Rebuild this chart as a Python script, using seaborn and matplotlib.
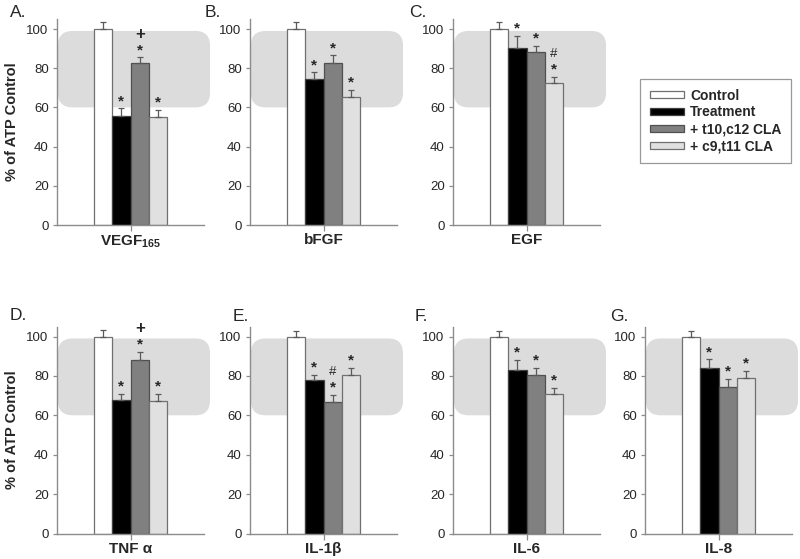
import numpy as np
import pandas as pd
import matplotlib
matplotlib.use("Agg")
import matplotlib.pyplot as plt
import seaborn as sns
from matplotlib.patches import FancyBboxPatch
from matplotlib import transforms

# ---------------- data ----------------
cytokines = ["VEGF165", "bFGF", "EGF", "TNF α", "IL-1β", "IL-6", "IL-8"]
tick_labels = [r"$\mathbf{VEGF}_{\mathbf{165}}$", "bFGF", "EGF", "TNF α", "IL-1β", "IL-6", "IL-8"]
panel_letters = ["A.", "B.", "C.", "D.", "E.", "F.", "G."]
groups = ["Control", "Treatment", "+ t10,c12 CLA", "+ c9,t11 CLA"]

control = [100, 100, 100, 100, 100, 100, 100]
treatment = [55.8, 74.7, 90.5, 67.9, 77.8, 83.0, 83.8]
t10c12 = [82.5, 82.5, 88.1, 87.9, 67.0, 80.5, 74.5]
c9t11 = [55.3, 65.5, 72.3, 67.5, 80.7, 70.7, 78.7]

control_err = [3.4, 3.4, 3.4, 3.1, 3.0, 3.0, 3.0]
treatment_err = [3.7, 3.2, 5.9, 2.9, 2.9, 5.1, 4.6]
t10c12_err = [3.0, 4.1, 3.2, 4.3, 3.4, 3.7, 4.1]
c9t11_err = [3.4, 3.4, 3.4, 3.3, 3.5, 3.4, 3.7]

# significance symbols, listed bottom to top
control_sig = ["", "", "", "", "", "", ""]
treatment_sig = ["*", "*", "*", "*", "*", "*", "*"]
t10c12_sig = ["*+", "*", "*", "*+", "*#", "*", "*"]
c9t11_sig = ["*", "*", "*#", "*", "*", "*", "*"]

y_ticks = [0, 20, 40, 60, 80, 100]
y_label = "% of ATP Control"

# ---------------- style ----------------
sns.set_style("white")
plt.rcParams["font.family"] = ["Liberation Sans", "DejaVu Sans"]
plt.rcParams["mathtext.fontset"] = "custom"
plt.rcParams["mathtext.bf"] = "Liberation Sans:bold"
plt.rcParams["mathtext.rm"] = "Liberation Sans"

colors = ["#ffffff", "#000000", "#808080", "#e0e0e0"]
edge_colors = ["#707070", "#404040", "#505050", "#707070"]
axis_grey = "#8c8c8c"

W, H = 800, 559
fig = plt.figure(figsize=(W / 100, H / 100), dpi=100)

col_left = [57, 250, 453, 645]
ax_w = 147
row_geom = [(225, 1.96), (533.5, 1.97)]  # (y0 pixel, px per unit)
ymax = 105

positions = [(0, 0), (0, 1), (0, 2), (1, 0), (1, 1), (1, 2), (1, 3)]
letter_xy = [(10, 17), (205, 17), (409, 17), (10, 320), (233, 321), (415, 321), (610, 321)]

glyph_center = {"*": 0.57, "+": 0.35, "#": 0.36}
sym_size = {"*": 11, "+": 12, "#": 9.5}
sym_weight = {"*": "bold", "+": "bold", "#": "normal"}

values = [control, treatment, t10c12, c9t11]
errs = [control_err, treatment_err, t10c12_err, c9t11_err]
sigs = [control_sig, treatment_sig, t10c12_sig, c9t11_sig]

legend_handles = None
for i, name in enumerate(cytokines):
    r, c = positions[i]
    y0, ppu = row_geom[r]
    top_px = y0 - ymax * ppu
    ax = fig.add_axes([col_left[c] / W, 1 - y0 / H, ax_w / W, (y0 - top_px) / H])

    df = pd.DataFrame({
        "cytokine": [name] * 4,
        "group": groups,
        "value": [v[i] for v in values],
    })
    sns.barplot(data=df, x="cytokine", y="value", hue="group", hue_order=groups,
                palette=colors, errorbar=None, width=0.8, linewidth=0.9,
                edgecolor="#606060", ax=ax, zorder=2)
    if legend_handles is None:
        legend_handles, _ = ax.get_legend_handles_labels()
    if ax.get_legend() is not None:
        ax.get_legend().remove()

    # shaded band (rounded) behind bars
    band = FancyBboxPatch((0.006, 60 / ymax), 1.035, 39 / ymax,
                          boxstyle="round,pad=0,rounding_size=0.1",
                          mutation_aspect=0.72, transform=ax.transAxes,
                          facecolor="#dcdcdc", edgecolor="none",
                          zorder=0.5, clip_on=False)
    ax.add_patch(band)

    bar_containers = list(ax.containers)
    for g, cont in enumerate(bar_containers):
        bar = cont.patches[0]
        bar.set_edgecolor(edge_colors[g])
        xc = bar.get_x() + bar.get_width() / 2
        h = bar.get_height()
        e = errs[g][i]
        ax.errorbar([xc], [h], yerr=[[0], [e]], fmt="none", ecolor="#5a5a5a",
                    elinewidth=0.9, capsize=2.5, capthick=0.9, zorder=3)
        sym = sigs[g][i]
        for k, s in enumerate(sym):
            center_px = 12.0 + 12.5 * k
            fs_px = sym_size[s] * 100 / 72
            dy = center_px - glyph_center[s] * fs_px
            tr = transforms.offset_copy(ax.transData, fig=fig, x=0, y=dy, units="dots")
            ax.text(xc, h + e, s, transform=tr, ha="center", va="baseline",
                    fontsize=sym_size[s], fontweight=sym_weight[s], zorder=4)

    ax.set_xlim(-0.8, 0.8)
    ax.set_ylim(0, ymax)
    ax.set_yticks(y_ticks)
    ax.set_yticklabels([str(t) for t in y_ticks], fontsize=9.5)
    ax.set_xticks([0])
    ax.set_xticklabels([tick_labels[i]], fontsize=11, fontweight="bold")
    ax.tick_params(axis="y", length=3, width=0.9, color=axis_grey, pad=3, left=True)
    ax.tick_params(axis="x", length=4, width=0.9, color=axis_grey, pad=2, bottom=True)
    ax.set_xlabel("")
    if c == 0:
        ax.set_ylabel(y_label, fontsize=10.5, fontweight="bold", labelpad=5)
    else:
        ax.set_ylabel("")
    for sp in ["top", "right"]:
        ax.spines[sp].set_visible(False)
    for sp in ["left", "bottom"]:
        ax.spines[sp].set_color(axis_grey)
        ax.spines[sp].set_linewidth(1.0)
    ax.patch.set_alpha(0)

    lx, ly = letter_xy[i]
    fig.text(lx / W, 1 - ly / H, panel_letters[i], fontsize=12.5, va="baseline", ha="left")

# legend
for h_, ec in zip(legend_handles, edge_colors):
    h_.set_edgecolor(ec)
    h_.set_linewidth(0.9)
leg = fig.legend(legend_handles, groups, loc="upper left",
                 bbox_to_anchor=(640 / W, 1 - 79 / H), frameon=True, fancybox=False,
                 prop={"weight": "bold", "size": 10}, handlelength=2.45,
                 handleheight=0.4, labelspacing=0.2, handletextpad=0.45,
                 borderpad=0.7, borderaxespad=0)
leg.get_frame().set_edgecolor("#808080")
leg.get_frame().set_linewidth(0.9)

fig.savefig("out.png", dpi=100)
